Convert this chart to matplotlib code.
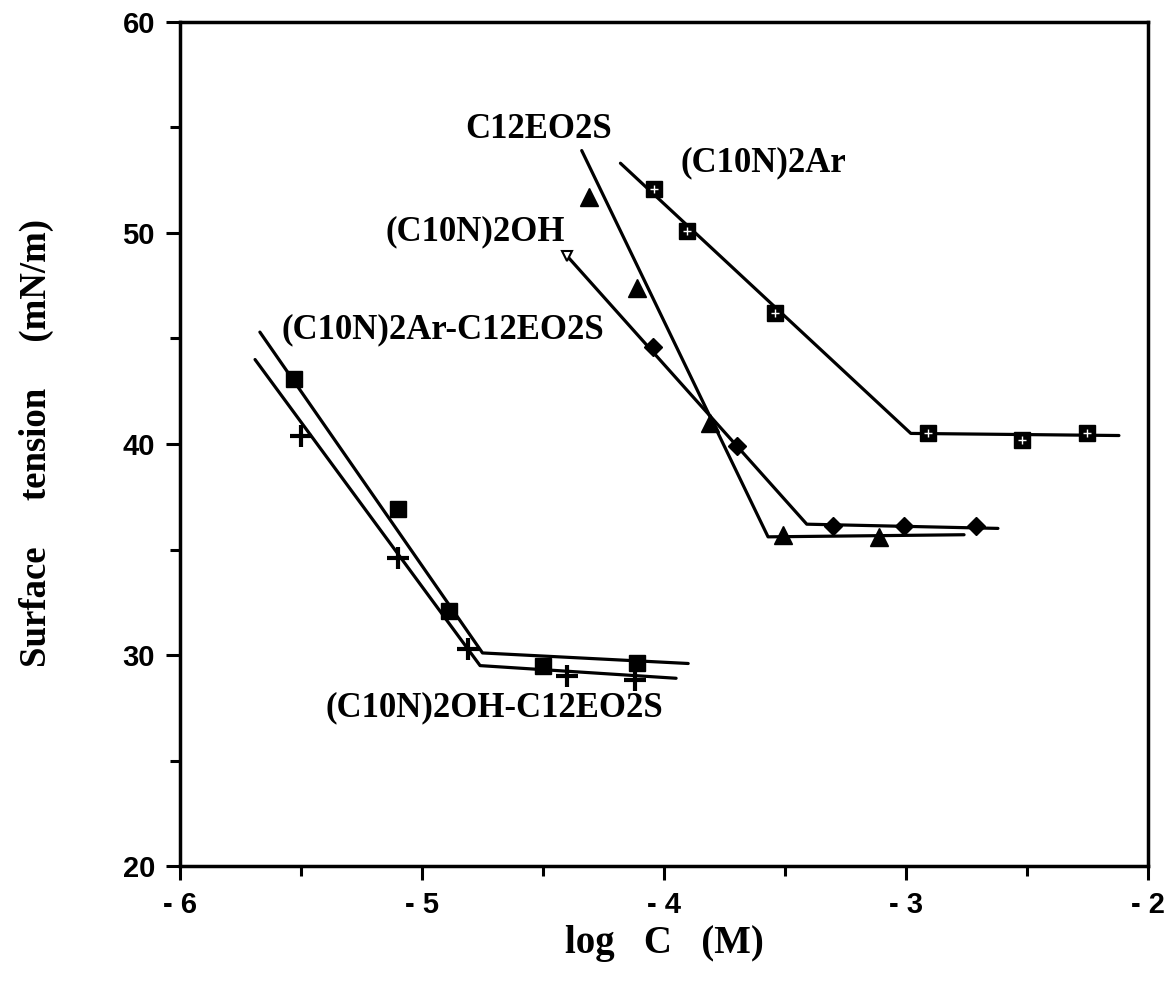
import matplotlib
matplotlib.use("Agg")
from matplotlib import pyplot as plt
from matplotlib.ticker import MultipleLocator

# measured points, log C (M) vs surface tension (mN/m)
ar_x = [-4.04, -3.905, -3.54, -2.91, -2.52, -2.25]
ar_y = [52.1, 50.1, 46.2, 40.5, 40.2, 40.5]
eo_x = [-4.31, -4.11, -3.81, -3.51, -3.11]
eo_y = [51.7, 47.4, 41.0, 35.7, 35.6]
oh_x = [-4.045, -3.70, -3.30, -3.01, -2.71]
oh_y = [44.6, 39.9, 36.1, 36.1, 36.1]
oh_first_x = [-4.40]
oh_first_y = [48.9]
mixar_x = [-5.53, -5.10, -4.89, -4.50, -4.11]
mixar_y = [43.1, 36.9, 32.1, 29.5, 29.6]
mixoh_x = [-5.50, -5.10, -4.81, -4.40, -4.12]
mixoh_y = [40.4, 34.6, 30.3, 29.0, 28.8]

# hand-drawn fits (start, break point, end)
ar_fit_x = [-4.18, -2.98, -2.12]
ar_fit_y = [53.3, 40.5, 40.4]
eo_fit_x = [-4.34, -3.57, -2.76]
eo_fit_y = [53.9, 35.6, 35.7]
oh_fit_x = [-4.40, -3.41, -2.62]
oh_fit_y = [48.9, 36.2, 36.0]
mixar_fit_x = [-5.67, -4.75, -3.90]
mixar_fit_y = [45.3, 30.1, 29.6]
mixoh_fit_x = [-5.69, -4.76, -3.95]
mixoh_fit_y = [44.0, 29.5, 28.9]

fig = plt.figure(figsize=(11.69, 9.91), dpi=100)
ax = fig.add_axes([0.154, 0.126, 0.828, 0.852])

lw = 2.3
for fx, fy in [(ar_fit_x, ar_fit_y), (eo_fit_x, eo_fit_y), (oh_fit_x, oh_fit_y),
               (mixar_fit_x, mixar_fit_y), (mixoh_fit_x, mixoh_fit_y)]:
    ax.plot(fx, fy, "-", color="black", lw=lw, solid_capstyle="round", zorder=2)

ax.plot(ar_x, ar_y, "s", color="black", ms=11, zorder=3)
ax.plot(ar_x, ar_y, "+", color="white", ms=6, mew=1.0, zorder=4)
ax.plot(eo_x, eo_y, "^", color="black", ms=13, zorder=3)
ax.plot(oh_x, oh_y, "D", color="black", ms=9, zorder=3)
ax.plot(oh_first_x, oh_first_y, "v", mfc="white", mec="black", mew=1.5, ms=7, zorder=3)
ax.plot(mixar_x, mixar_y, "s", color="black", ms=12, zorder=3)
ax.plot(mixoh_x, mixoh_y, "+", color="black", ms=16, mew=3, zorder=3)

serif = dict(family="Liberation Serif", weight="bold", fontsize=25)
ax.text(-4.82, 54.9, "C12EO2S", va="center", ha="left", **serif)
ax.text(-3.93, 53.3, "(C10N)2Ar", va="center", ha="left", **serif)
ax.text(-5.15, 50.05, "(C10N)2OH", va="center", ha="left", **serif)
ax.text(-5.58, 45.4, "(C10N)2Ar-C12EO2S", va="center", ha="left", **serif)
ax.text(-5.40, 27.5, "(C10N)2OH-C12EO2S", va="center", ha="left", **serif)

ax.set_xlim(-6, -2)
ax.set_ylim(20, 60)
ax.xaxis.set_major_locator(MultipleLocator(1))
ax.xaxis.set_minor_locator(MultipleLocator(0.5))
ax.yaxis.set_major_locator(MultipleLocator(10))
ax.yaxis.set_minor_locator(MultipleLocator(5))
ax.set_xticks([-6, -5, -4, -3, -2])
ax.set_xticklabels(["- 6", "- 5", "- 4", "- 3", "- 2"])

ax.tick_params(which="both", direction="out", width=2.2, top=False, right=False)
ax.tick_params(which="major", length=10, pad=8)
ax.tick_params(which="minor", length=7)
for lab in ax.get_xticklabels() + ax.get_yticklabels():
    lab.set_family("Liberation Sans")
    lab.set_weight("bold")
    lab.set_fontsize(21)
for sp in ax.spines.values():
    sp.set_linewidth(2.5)

fig.text(0.031, 0.553, "Surface     tension     (mN/m)", rotation=90, ha="center", va="center",
         family="Liberation Serif", weight="bold", fontsize=26.5)
fig.text(0.568, 0.048, "log   C   (M)", ha="center", va="center",
         family="Liberation Serif", weight="bold", fontsize=28)

fig.savefig("out.png", dpi=100)
